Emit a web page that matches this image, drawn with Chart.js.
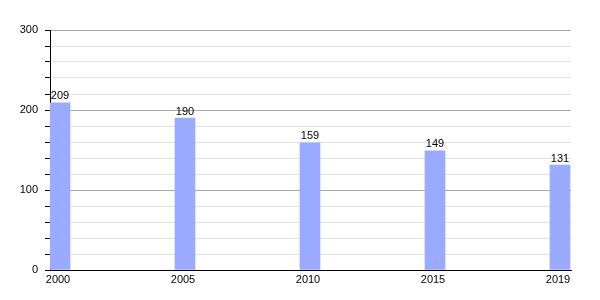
<!DOCTYPE html>
<html>
<head>
<meta charset="utf-8">
<script src="https://cdn.jsdelivr.net/npm/chart.js@4/dist/chart.umd.min.js"></script>
<style>
  html, body { margin: 0; padding: 0; background: #fff; }
</style>
</head>
<body>
<canvas id="chart" width="600" height="300"></canvas>
<script>
// DATA
const years = ["2000", "2005", "2010", "2015", "2019"]
const values = [209, 190, 159, 149, 131]
const yTicks = [0, 100, 200, 300]
const yMinorStep = 20

const barColor = "#99aaff"
const shift = 0.064

// draw value above each bar
const valueLabels = {
  id: "valueLabels",
  afterDatasetsDraw(chart) {
    const ctx = chart.ctx
    const meta = chart.getDatasetMeta(0)
    ctx.save()
    ctx.font = "11px 'Liberation Sans', Arial, sans-serif"
    ctx.fillStyle = "#000"
    ctx.textAlign = "center"
    ctx.textBaseline = "bottom"
    meta.data.forEach((bar, i) => {
      ctx.fillText(values[i], bar.x, bar.y - 1)
    })
    ctx.restore()
  },
}

const ctx = document.getElementById("chart").getContext("2d")

new Chart(ctx, {
  type: "bar",
  data: {
    datasets: [
      {
        data: values.map((v, i) => ({ x: i + 0.08, y: v })),
        backgroundColor: barColor,
        borderWidth: 0,
        barThickness: 20,
      },
    ],
  },
  options: {
    responsive: false,
    animation: false,
    devicePixelRatio: 1,
    layout: { padding: { top: 30, right: 29, left: 0, bottom: 0 } },
    plugins: {
      legend: { display: false },
      tooltip: { enabled: false },
    },
    scales: {
      x: {
        type: "linear",
        offset: false,
        min: 0,
        max: 4.168,
        grid: { display: false, drawTicks: false, offset: false },
        border: { color: "#000", width: 1 },
        afterBuildTicks: (scale) => {
          scale.ticks = years.map((y, i) => ({ value: i + shift }))
        },
        afterFit: (scale) => {
          scale.height = 30
        },
        ticks: {
          autoSkip: false,
          maxRotation: 0,
          padding: 3,
          color: "#000",
          font: { family: "'Liberation Sans', Arial, sans-serif", size: 11 },
          callback: (val, index) => years[index],
        },
      },
      y: {
        min: yTicks[0],
        max: yTicks[yTicks.length - 1],
        afterFit: (scale) => {
          scale.width = 50
        },
        afterBuildTicks: (scale) => {
          const t = []
          for (let v = scale.min; v <= scale.max; v += yMinorStep) t.push({ value: v })
          scale.ticks = t
        },
        grid: {
          color: (c) =>
            c.tick && yTicks.includes(c.tick.value) ? "#aaaaaa" : "#e2e2e2",
          tickColor: "#000",
          tickLength: 5,
        },
        border: { color: "#000", width: 1 },
        ticks: {
          autoSkip: false,
          padding: 7,
          color: "#000",
          font: { family: "'Liberation Sans', Arial, sans-serif", size: 11 },
          callback: (val) => (yTicks.includes(val) ? String(val) : ""),
        },
      },
    },
  },
  plugins: [valueLabels],
})
</script>
</body>
</html>
